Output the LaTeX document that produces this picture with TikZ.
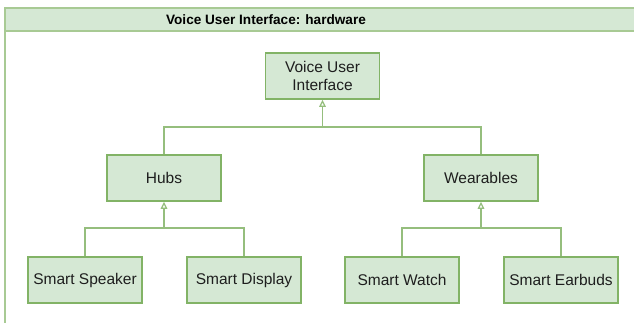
\documentclass[tikz,border=0pt]{standalone}
\usepackage{fontspec}
\setmainfont{Liberation Sans}
\usetikzlibrary{arrows.meta}
\definecolor{gfill}{HTML}{D5E8D4}
\definecolor{gline}{HTML}{82B366}
\definecolor{txt}{HTML}{1E1E1E}
\tikzset{
  box/.style={draw=gline, fill=gfill, line width=1.5pt, minimum width=114pt, minimum height=46pt,
    inner sep=0pt, align=center, text=txt, font=\fontsize{15.5}{18}\selectfont},
  edge/.style={draw=gline!85!white, line width=1.5pt},
  tip/.style={-{Triangle[open, length=7pt, width=6.5pt, line width=1.2pt]}}
}
\begin{document}
\begin{tikzpicture}[x=1pt,y=-1pt]
\useasboundingbox (0,0) rectangle (634,322);
\fill[white] (0,0) rectangle (634,322);
\begin{scope}
\clip (0,0) rectangle (634,322);
\fill[gfill] (5,8) rectangle (640,31);
\draw[gline!70!white, line width=1.5pt] (640,8) -- (5,8) -- (5,330);
\draw[gline!70!white, line width=1.5pt] (5,31) -- (640,31);
\end{scope}
\node[font=\fontsize{13.6}{16}\selectfont\bfseries, text=black] (title) at (266,19.5) {Voice User Interface: hardware};

\node[box] (vui) at (322.5,76) {Voice User\\Interface};
\node[box] (hubs) at (164,178) {Hubs};
\node[box] (wear) at (481,178) {Wearables};
\node[box] (ss) at (85,280) {Smart Speaker};
\node[box] (sd) at (244,280) {Smart Display};
\node[box] (sw) at (402,280) {Smart Watch};
\node[box] (se) at (561,280) {Smart Earbuds};

\coordinate (j0) at (322.5,127);
\coordinate (j1) at (164,228);
\coordinate (j2) at (481,228);

\draw[edge,tip] (hubs.north) |- (j0) -- (vui.south);
\draw[edge] (wear.north) |- (j0);
\draw[edge,tip] (ss.north) |- (j1) -- (hubs.south);
\draw[edge] (sd.north) |- (j1);
\draw[edge,tip] (sw.north) |- (j2) -- (wear.south);
\draw[edge] (se.north) |- (j2);
\end{tikzpicture}
\end{document}
